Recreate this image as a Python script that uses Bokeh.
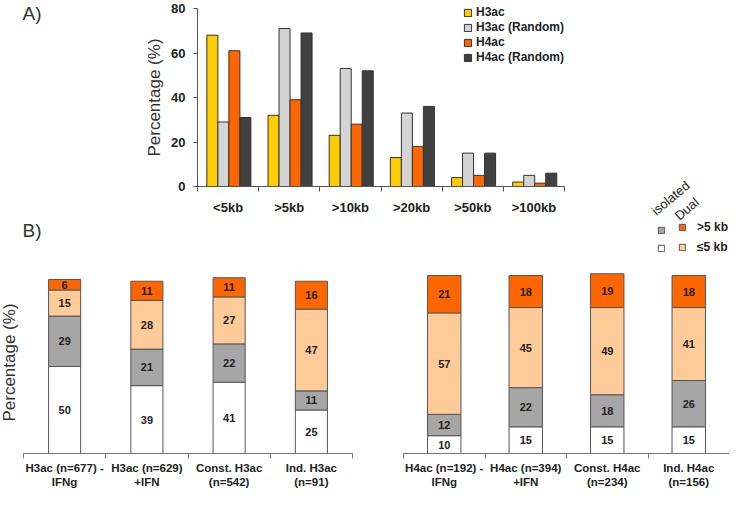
import math
from bokeh.plotting import figure
from bokeh.models import Range1d, FixedTicker, Legend, LegendItem, Label, ColumnDataSource
from bokeh.layouts import column, row
from bokeh.embed import file_html
from bokeh.resources import INLINE
from bokeh.transform import dodge
from bokeh.core.properties import value

FONT = "Liberation Sans"
TXT = "#222222"

# ---------------- Panel A data ----------------
dist_cats = ["<5kb", ">5kb", ">10kb", ">20kb", ">50kb", ">100kb"]
h3ac = [68, 32, 23, 13, 4, 2]
h3ac_random = [29, 71, 53, 33, 15, 5]
h4ac = [61, 39, 28, 18, 5, 1.5]
h4ac_random = [31, 69, 52, 36, 15, 6]
series_names = ["H3ac", "H3ac (Random)", "H4ac", "H4ac (Random)"]
series_colors = ["#FFCC00", "#D4D4D4", "#FF6600", "#404040"]
a_ticks = [0, 20, 40, 60, 80]

# ---------------- Panel B data ----------------
groups_h3 = ["H3ac (n=677) -\nIFNg", "H3ac (n=629)\n+IFN", "Const. H3ac\n(n=542)", "Ind. H3ac\n(n=91)"]
groups_h4 = ["H4ac (n=192) -\nIFNg", "H4ac (n=394)\n+IFN", "Const. H4ac\n(n=234)", "Ind. H4ac\n(n=156)"]
stack_keys = ["iso_le5", "iso_gt5", "dual_le5", "dual_gt5"]
stack_colors = ["#FFFFFF", "#A6A6A6", "#FFCC99", "#FF6600"]
legend_b_cols = ["isolated", "Dual"]
legend_b_rows = [">5 kb", "≤5 kb"]
h3_iso_le5 = [50, 39, 41, 25]
h3_iso_gt5 = [29, 21, 22, 11]
h3_dual_le5 = [15, 28, 27, 47]
h3_dual_gt5 = [6, 11, 11, 16]
h4_iso_le5 = [10, 15, 15, 15]
h4_iso_gt5 = [12, 22, 18, 26]
h4_dual_le5 = [57, 45, 49, 41]
h4_dual_gt5 = [21, 18, 19, 18]


def view_range(px0, px_per_unit, size, data0=0.0, flip=False):
    """Range so that data0 maps to pixel px0 (from left / from top when flip)."""
    if flip:
        return Range1d(data0 - (size - px0) / px_per_unit, data0 + px0 / px_per_unit)
    return Range1d(data0 - px0 / px_per_unit, data0 + (size - px0) / px_per_unit)


def make_fig(w, h, xr, yr):
    p = figure(width=w, height=h, x_range=xr, y_range=yr, output_backend="svg",
               toolbar_location=None, min_border=0,
               min_border_left=0, min_border_right=0, min_border_top=0, min_border_bottom=0)
    p.xgrid.visible = False
    p.ygrid.visible = False
    p.outline_line_color = None
    p.background_fill_color = "white"
    p.border_fill_color = "white"
    return p


def boundary_xaxis(p, cats, font_size, standoff, line_color):
    n = len(cats)
    xa = p.xaxis[0]
    xa.fixed_location = 0
    xa.bounds = (0, n)
    xa.ticker = FixedTicker(ticks=[i + 0.5 for i in range(n)], minor_ticks=list(range(n + 1)))
    xa.major_label_overrides = {i + 0.5: c for i, c in enumerate(cats)}
    xa.major_tick_line_color = None
    xa.major_tick_out = 0
    xa.major_tick_in = 0
    xa.minor_tick_out = 5
    xa.minor_tick_in = 0
    xa.minor_tick_line_color = line_color
    xa.axis_line_color = line_color
    xa.major_label_standoff = standoff
    xa.major_label_text_font = FONT
    xa.major_label_text_font_size = font_size
    xa.major_label_text_font_style = "bold"
    xa.major_label_text_color = TXT


def style_legend(lg, glyph, spacing, standoff):
    lg.glyph_width = glyph
    lg.glyph_height = glyph
    lg.label_height = 12
    lg.spacing = spacing
    lg.padding = 0
    lg.margin = 0
    lg.label_standoff = standoff
    lg.border_line_color = None
    lg.background_fill_alpha = 0
    lg.label_text_font = FONT
    lg.label_text_font_size = "12px"
    lg.label_text_font_style = "bold"
    lg.label_text_color = TXT


# ================= Top half: panel A, labels, legend of B =================
TW, TH = 729, 262
a_ppx = 61.17              # pixels per category
a_ppy = (186 - 8) / 80     # pixels per percent
xrA = view_range(197, a_ppx, TW)
yrA = view_range(186, a_ppy, TH, flip=True)
top = make_fig(TW, TH, xrA, yrA)
boundary_xaxis(top, dist_cats, "13px", 8, "#555555")

ya = top.yaxis[0]
ya.fixed_location = 0
ya.bounds = (0, 80)
ya.ticker = FixedTicker(ticks=a_ticks)
ya.major_tick_out = 4
ya.major_tick_in = 0
ya.minor_tick_out = 0
ya.minor_tick_in = 0
ya.major_tick_line_color = "#555555"
ya.axis_line_color = "#555555"
ya.major_label_standoff = 8
ya.major_label_text_font = FONT
ya.major_label_text_font_size = "13px"
ya.major_label_text_font_style = "bold"
ya.major_label_text_color = TXT
ya.axis_label = "Percentage (%)"
ya.axis_label_text_font = FONT
ya.axis_label_text_font_size = "17px"
ya.axis_label_text_font_style = "normal"
ya.axis_label_text_color = "#333333"
ya.axis_label_standoff = 4

srcA = ColumnDataSource(dict(xc=[i + 0.5 for i in range(len(dist_cats))],
                             s0=h3ac, s1=h3ac_random, s2=h4ac, s3=h4ac_random))
offsets = [-0.257, -0.077, 0.103, 0.283]
rendA = []
for k, (off, col) in enumerate(zip(offsets, series_colors)):
    r = top.vbar(x=dodge("xc", off, range=top.x_range), top=f"s{k}", bottom=0, width=0.18,
                 source=srcA, fill_color=col, line_color="#333333", line_width=1)
    rendA.append(r)

legA = Legend(items=[LegendItem(label=n, renderers=[r]) for n, r in zip(series_names, rendA)],
              location=(463, 198))
style_legend(legA, 9, 1, 4)
top.add_layout(legA)

# legend of panel B (isolated / Dual columns); key-only renderers with no drawable data
nan = float("nan")
dummy = {}
for key, col in zip(stack_keys, stack_colors):
    dummy[key] = top.vbar(x=[nan], top=[nan], width=0.1, fill_color=col,
                          line_color="#555555", line_width=1)
legB1 = Legend(items=[LegendItem(label=" ", renderers=[dummy["iso_gt5"]]),
                      LegendItem(label=" ", renderers=[dummy["iso_le5"]])], location=(657, 8))
style_legend(legB1, 8, 6, 2)
legB2 = Legend(items=[LegendItem(label=legend_b_rows[0], renderers=[dummy["dual_gt5"]]),
                      LegendItem(label=legend_b_rows[1], renderers=[dummy["dual_le5"]])],
               location=(678, 8))
style_legend(legB2, 8, 6, 11)
top.add_layout(legB1)
top.add_layout(legB2)


def px_to_data(px, py):
    return (xrA.start + px / a_ppx, yrA.end - py / a_ppy)


hdr_pos = [px_to_data(653, 212), px_to_data(676, 217)]
top.text(x=[p[0] for p in hdr_pos], y=[p[1] for p in hdr_pos], text=legend_b_cols, angle=0.70,
         text_align="left", text_baseline="alphabetic", text_font=value(FONT),
         text_font_size="13px", text_color=TXT)

top.add_layout(Label(x=22, y=TH - 2, x_units="screen", y_units="screen", text="A)",
                     text_baseline="top", text_font=FONT, text_font_size="19px", text_color="#333333"))
top.add_layout(Label(x=22, y=43, x_units="screen", y_units="screen", text="B)",
                     text_baseline="top", text_font=FONT, text_font_size="19px", text_color="#333333"))

# ================= Bottom half: panel B stacked bars =================
BH = 230


def stacked(groups, vals, width, left_px, ppx, top_px, axis_px, barw, ylabel=None):
    ppy = (axis_px - top_px) / 100
    p = make_fig(width, BH, view_range(left_px, ppx, width), view_range(axis_px, ppy, BH, flip=True))
    boundary_xaxis(p, groups, "11.5px", 3, "#777777")
    p.yaxis.visible = False
    data = dict(xc=[i + 0.5 for i in range(len(groups))])
    for k, v in zip(stack_keys, vals):
        data[k] = v
    src = ColumnDataSource(data)
    p.vbar_stack(stack_keys, x="xc", width=barw, source=src, fill_color=stack_colors,
                 line_color="#555555", line_width=1)
    tx, ty, tt = [], [], []
    for i in range(len(groups)):
        base = 0
        for v in vals:
            col = v[i]
            tx.append(i + 0.5)
            ty.append(base + col / 2)
            tt.append(str(col))
            base += col
    p.text(x=tx, y=ty, text=tt, text_align="center", text_baseline="middle",
           text_font=value(FONT), text_font_size="11px", text_font_style="bold", text_color=TXT)
    if ylabel:
        p.add_layout(Label(x=9, y=130, x_units="screen", y_units="screen", text=ylabel,
                           angle=math.pi / 2, angle_units="rad", text_align="center",
                           text_baseline="middle", text_font=FONT, text_font_size="17px",
                           text_color="#333333"))
    return p


bl_fig = stacked(groups_h3, [h3_iso_le5, h3_iso_gt5, h3_dual_le5, h3_dual_gt5],
                 380, 23, 82.25, 17, 191, 0.39, "Percentage (%)")
br_fig = stacked(groups_h4, [h4_iso_le5, h4_iso_gt5, h4_dual_le5, h4_dual_gt5],
                 349, 23, 81.5, 13, 191, 0.41)

layout = column(top, row(bl_fig, br_fig, spacing=0), spacing=0)
open("out.html", "w").write(file_html(layout, INLINE))
